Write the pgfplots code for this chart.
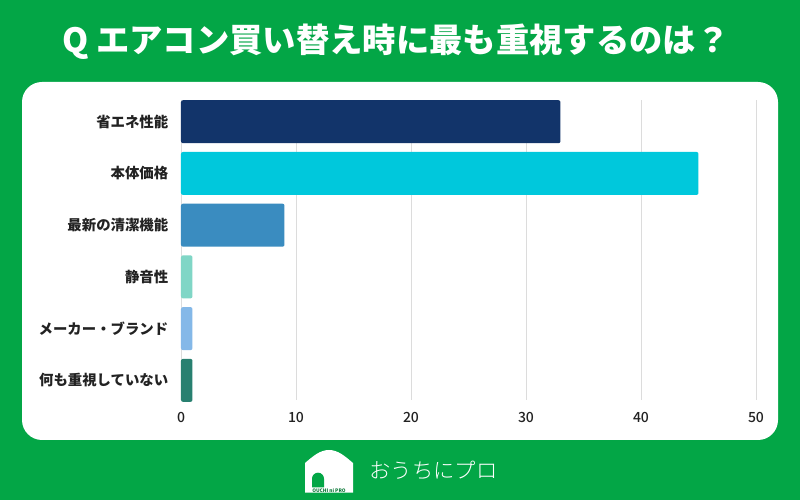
\documentclass[border=0pt]{standalone}
\usepackage{fontspec}
\setmainfont{Noto Sans CJK JP}
\newfontfamily\cjklight{Noto Sans CJK JP Light}
\newfontfamily\cjkmed{Noto Sans CJK JP Medium}
\usepackage{pgfplots}
\pgfplotsset{compat=1.18}

\definecolor{bggreen}{HTML}{03A646}
\definecolor{cNavy}{HTML}{12346A}
\definecolor{cCyan}{HTML}{00C8DC}
\definecolor{cBlue}{HTML}{3A8CC0}
\definecolor{cMint}{HTML}{80D6C6}
\definecolor{cSky}{HTML}{84B8E8}
\definecolor{cTeal}{HTML}{288070}
\definecolor{gridgray}{HTML}{DCDCDC}
\definecolor{labelgray}{HTML}{222222}

\begin{document}
\begin{tikzpicture}
\useasboundingbox (0pt,0pt) rectangle (600pt,375pt);
% background and white panel
\fill[bggreen] (0pt,0pt) rectangle (600pt,375pt);
\fill[white, rounded corners=15pt] (16.5pt,45pt) rectangle (583.5pt,313.5pt);
% title
\node[white, font=\bfseries\fontsize{25}{29}\selectfont] at (297pt,343.5pt)
  {Q エアコン買い替え時に最も重視するのは？};

\begin{axis}[
  at={(135.75pt,75pt)}, anchor=south west,
  scale only axis, width=431.25pt, height=225pt,
  xmin=0, xmax=50, ymin=-0.38, ymax=5.42,
  xbar, bar width=32.25pt,
  axis line style={draw=none},
  major tick length=0pt,
  xtick={0,10,...,50},
  ytick={0,...,5},
  yticklabels={何も重視していない,メーカー・ブランド,静音性,最新の清潔機能,本体価格,省エネ性能},
  yticklabel style={font=\bfseries\fontsize{10.8}{12}\selectfont, text=labelgray, xshift=-6pt},
  xticklabel style={font=\cjkmed\fontsize{10.5}{12}\selectfont, text=labelgray, yshift=-6pt},
  /pgf/number format/assume math mode=true,
  xmajorgrids, grid style={gridgray, line width=0.6pt},
  every axis plot/.append style={draw=none, bar shift=0pt, rounded corners=1.5pt},
  clip=false,
]
\addplot[fill=cNavy] coordinates {(33,5)};
\addplot[fill=cCyan] coordinates {(45,4)};
\addplot[fill=cBlue] coordinates {(9,3)};
\addplot[fill=cMint] coordinates {(1,2)};
\addplot[fill=cSky] coordinates {(1,1)};
\addplot[fill=cTeal] coordinates {(1,0)};
\end{axis}

% logo: house mark and name
\fill[white] (228.75pt,5.5pt) -- (228.75pt,27.75pt)
  .. controls (235pt,33pt) and (240pt,37.5pt) .. (246.75pt,37.5pt)
  .. controls (253.5pt,37.5pt) and (258.5pt,33pt) .. (264.75pt,27.75pt)
  -- (264.75pt,5.5pt) -- cycle;
\fill[bggreen] (234pt,9.5pt) -- (234pt,16pt) arc[start angle=180, end angle=0, radius=4.5pt] -- (243pt,9.5pt) -- cycle;
\node[bggreen!70!black, font=\bfseries\fontsize{3.6}{4}\selectfont, inner sep=0pt] at (246.75pt,7.4pt) {OUCHI ni PRO};
\node[white, font=\cjklight\fontsize{16}{18}\selectfont, anchor=west, inner sep=0pt] at (277pt,22.5pt) {おうちにプロ};
\end{tikzpicture}
\end{document}
